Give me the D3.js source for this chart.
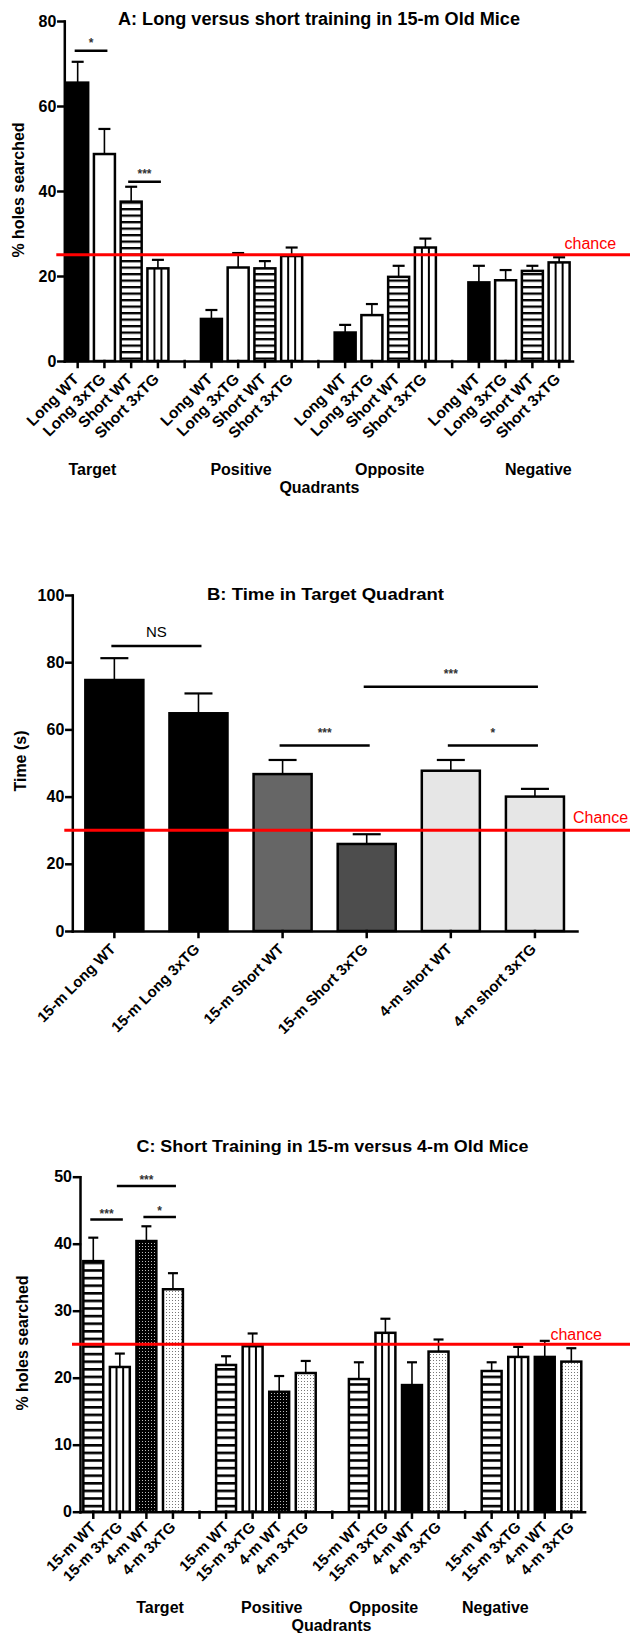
<!DOCTYPE html>
<html>
<head>
<meta charset="utf-8">
<title></title>
<style>
  body { margin: 0; background: #fff; }
  svg { display: block; font-family: "Liberation Sans", Arial, sans-serif; }
  .axis path, .axis line { stroke: #000; stroke-width: 2.5; stroke-linecap: square; }
  .axis text { font-weight: bold; fill: #000; }
</style>
</head>
<body>
<svg id="chart" width="630" height="1633"></svg>
<script src="https://cdn.jsdelivr.net/npm/d3@7/dist/d3.min.js"></script>
<script>

const quadrants = ["Target", "Positive", "Opposite", "Negative"];

// A: long vs short training, 15-m mice
const groupsA = ["Long WT", "Long 3xTG", "Short WT", "Short 3xTG"];
const meanA = [
  [65.5, 48.7, 37.5, 21.8],
  [9.9, 22.0, 21.8, 24.7],
  [6.7, 10.8, 19.8, 26.7],
  [18.5, 19.0, 21.2, 23.2]
];
const semA = [
  [4.9, 5.9, 3.5, 2.0],
  [2.1, 3.4, 1.7, 2.0],
  [1.8, 2.6, 2.6, 2.1],
  [3.9, 2.4, 1.2, 1.2]
];
const ticksA = [0, 20, 40, 60, 80];
const sigA = [
  {q: "Target", from: "Long WT", to: "Long 3xTG", level: 73, label: "*"},
  {q: "Target", from: "Short WT", to: "Short 3xTG", level: 42.2, label: "***"}
];

// B: time in target quadrant
const labelsB = ["15-m Long WT", "15-m Long 3xTG", "15-m Short WT", "15-m Short 3xTG", "4-m short WT", "4-m short 3xTG"];
const meanB = [74.7, 64.8, 46.7, 25.9, 47.7, 40.0];
const semB = [6.5, 5.9, 4.2, 2.9, 3.2, 2.3];
const ticksB = [0, 20, 40, 60, 80, 100];
const sigB = [
  {from: "15-m Long WT", to: "15-m Long 3xTG", level: 84.8, label: "NS"},
  {from: "15-m Short 3xTG", to: "4-m short 3xTG", level: 72.7, label: "***"},
  {from: "15-m Short WT", to: "15-m Short 3xTG", level: 55.2, label: "***"},
  {from: "4-m short WT", to: "4-m short 3xTG", level: 55.2, label: "*"}
];

// C: short training, 15-m vs 4-m
const groupsC = ["15-m WT", "15-m 3xTG", "4-m WT", "4-m 3xTG"];
const meanC = [
  [37.4, 21.6, 40.4, 33.2],
  [21.9, 24.7, 17.9, 20.7],
  [19.8, 26.7, 18.9, 23.9],
  [21.0, 23.1, 23.1, 22.4]
];
const semC = [
  [3.5, 2.0, 2.2, 2.4],
  [1.3, 1.9, 2.35, 1.8],
  [2.5, 2.1, 3.4, 1.8],
  [1.3, 1.5, 2.4, 2.0]
];
const ticksC = [0, 10, 20, 30, 40, 50];
const sigC = [
  {q: "Target", from: "15-m WT", to: "15-m 3xTG", level: 43.6, label: "***"},
  {q: "Target", from: "4-m WT", to: "4-m 3xTG", level: 44.0, label: "*"},
  {q: "Target", from: "15-m 3xTG", to: "4-m 3xTG", level: 48.6, label: "***"}
];

const svg = d3.select("#chart");
const defs = svg.append("defs");

function hStripe(id, h, t) {
  let p = defs.append("pattern").attr("id", id)
    .attr("patternUnits", "userSpaceOnUse").attr("width", 8).attr("height", h);
  p.append("rect").attr("width", 8).attr("height", h).attr("fill", "#fff");
  p.append("rect").attr("width", 8).attr("height", t).attr("fill", "#000");
}
hStripe("hA", 6.5, 2.3);
hStripe("hC", 7.6, 2.6);

let pd = defs.append("pattern").attr("id", "dotsDark")
  .attr("patternUnits", "userSpaceOnUse").attr("width", 3).attr("height", 3);
pd.append("rect").attr("width", 3).attr("height", 3).attr("fill", "#000");
pd.append("rect").attr("x", 1).attr("y", 1).attr("width", 1).attr("height", 1).attr("fill", "#bbb");

let pl = defs.append("pattern").attr("id", "dotsLight")
  .attr("patternUnits", "userSpaceOnUse").attr("width", 3).attr("height", 3);
pl.append("rect").attr("width", 3).attr("height", 3).attr("fill", "#fff");
pl.append("rect").attr("x", 1).attr("y", 1).attr("width", 1).attr("height", 1).attr("fill", "#777");

function title(text, cx, y, size, len) {
  svg.append("text")
    .attr("x", cx).attr("y", y)
    .attr("text-anchor", "middle")
    .attr("font-weight", "bold").attr("font-size", size)
    .attr("textLength", len).attr("lengthAdjust", "spacingAndGlyphs")
    .text(text);
}

function yTitle(text, x, cy, size) {
  svg.append("text")
    .attr("transform", "translate(" + x + "," + cy + ") rotate(-90)")
    .attr("text-anchor", "middle")
    .attr("font-weight", "bold").attr("font-size", size)
    .text(text);
}

function chance(cfg, y, value) {
  svg.append("line")
    .attr("x1", cfg.x0 - 8).attr("x2", 630)
    .attr("y1", y(value)).attr("y2", y(value))
    .attr("stroke", "#ff0000").attr("stroke-width", 3);
  svg.append("text")
    .attr("x", cfg.chanceX).attr("y", y(value) - cfg.chanceDy)
    .attr("fill", "#ff0000").attr("font-size", 16)
    .text(cfg.chanceText);
}

function sig(list, xc, y, gap) {
  list.forEach(s => {
    let x1 = xc(s, s.from) - 3, x2 = xc(s, s.to) + 3;
    svg.append("line")
      .attr("x1", x1).attr("x2", x2)
      .attr("y1", y(s.level)).attr("y2", y(s.level))
      .attr("stroke", "#000").attr("stroke-width", 2.5);
    svg.append("text")
      .attr("x", (x1 + x2) / 2).attr("y", y(s.level) - gap)
      .attr("text-anchor", "middle")
      .attr("font-size", s.label === "NS" ? 15 : 12)
      .attr("font-weight", s.label === "NS" ? "normal" : "bold")
      .attr("fill", s.label === "NS" ? "#000" : "#333")
      .text(s.label);
  });
}

function errorBars(g, xs, w, ys, means, sems, cap) {
  means.forEach((m, i) => {
    let cx = xs[i] + w / 2;
    g.append("line").attr("x1", cx).attr("x2", cx)
      .attr("y1", ys(m)).attr("y2", ys(m + sems[i]))
      .attr("stroke", "#000").attr("stroke-width", 1.6);
    g.append("line").attr("x1", cx - cap / 2).attr("x2", cx + cap / 2)
      .attr("y1", ys(m + sems[i])).attr("y2", ys(m + sems[i]))
      .attr("stroke", "#000").attr("stroke-width", 2.2);
  });
}

// grouped panels (A and C)
function grouped(cfg) {
  let slots = [];
  quadrants.forEach((q, i) => {
    if (i > 0) slots.push("gap" + i);
    cfg.groups.forEach(gr => slots.push(q + "|" + gr));
  });

  let x = d3.scaleBand().domain(slots).range([cfg.x0, cfg.x1])
    .paddingInner(cfg.pad).paddingOuter(cfg.pad / 2);
  let y = d3.scaleLinear().domain([0, d3.max(cfg.ticks)]).range([cfg.y0, cfg.y1]);

  let g = svg.append("g");

  quadrants.forEach((q, qi) => {
    cfg.groups.forEach((gr, gi) => {
      let key = q + "|" + gr;
      let v = cfg.means[qi][gi];
      let style = cfg.fill(qi, gi);
      let bx = x(key), bw = x.bandwidth();
      g.append("rect")
        .attr("x", bx).attr("y", y(v))
        .attr("width", bw).attr("height", y(0) - y(v))
        .attr("fill", style === "v" ? "#fff" : style)
        .attr("stroke", "#000").attr("stroke-width", 2.5);
      if (style === "v") {
        [1, 2].forEach(k => {
          g.append("line")
            .attr("x1", bx + bw * k / 3).attr("x2", bx + bw * k / 3)
            .attr("y1", y(v)).attr("y2", y(0))
            .attr("stroke", "#000").attr("stroke-width", 2);
        });
      }
    });
    let xs = cfg.groups.map(gr => x(q + "|" + gr));
    errorBars(g, xs, x.bandwidth(), y, cfg.means[qi], cfg.sems[qi], cfg.cap);
  });

  let xAxis = svg.append("g").attr("class", "axis")
    .attr("transform", "translate(0," + cfg.y0 + ")")
    .call(d3.axisBottom(x).tickSize(6).tickSizeOuter(0)
      .tickFormat(d => d.startsWith("gap") ? "" : d.split("|")[1]));
  xAxis.selectAll("text")
    .attr("font-size", cfg.labelSize)
    .attr("x", cfg.labelX).attr("y", cfg.labelY).attr("dy", 0)
    .attr("transform", "rotate(-45)")
    .style("text-anchor", "end");

  svg.append("g").attr("class", "axis")
    .attr("transform", "translate(" + cfg.x0 + ",0)")
    .call(d3.axisLeft(y).tickValues(cfg.ticks).tickSize(6).tickPadding(2).tickSizeOuter(0))
    .selectAll("text").attr("font-size", 16);

  let qx = d3.scalePoint().domain(quadrants).range(cfg.quadRange);
  quadrants.forEach(q => {
    svg.append("text").attr("x", qx(q)).attr("y", cfg.quadY)
      .attr("text-anchor", "middle").attr("font-weight", "bold").attr("font-size", 16)
      .text(q);
  });
  svg.append("text").attr("x", cfg.quadTitleX).attr("y", cfg.quadY + 18)
    .attr("text-anchor", "middle").attr("font-weight", "bold").attr("font-size", 16)
    .text("Quadrants");

  chance(cfg, y, 25);
  sig(cfg.sig, (s, gr) => x(s.q + "|" + gr) + x.bandwidth() / 2, y, cfg.sigGap);
}

// Panel A
title("A: Long versus short training in 15-m Old Mice", 319, 25, 18, 402);
yTitle("% holes searched", 24, 190, 16);
grouped({
  groups: groupsA, means: meanA, sems: semA, ticks: ticksA, sig: sigA,
  x0: 64.3, x1: 572.5, y0: 361, y1: 21, pad: 0.215, cap: 12,
  fill: (qi, gi) => ["#000", "#fff", "url(#hA)", "v"][gi],
  labelSize: 15.5, labelX: -12, labelY: 15,
  quadRange: [92.4, 538.4], quadY: 475, quadTitleX: 319.4,
  chanceX: 564.5, chanceDy: 6, chanceText: "chance", sigGap: 4
});

// Panel B
title("B:  Time in Target Quadrant", 325.5, 600, 17, 237);
yTitle("Time (s)", 26, 761, 16);
(function () {
  let cfg = {x0: 72.3, x1: 577, y0: 931, y1: 595, chanceX: 573, chanceDy: 7.4, chanceText: "Chance"};
  let x = d3.scaleBand().domain(labelsB).range([cfg.x0, cfg.x1]).paddingInner(0.31).paddingOuter(0.155);
  let y = d3.scaleLinear().domain([0, d3.max(ticksB)]).range([cfg.y0, cfg.y1]);
  let fills = ["#000", "#000", "#666", "#4d4d4d", "#e6e6e6", "#e6e6e6"];
  let g = svg.append("g");
  g.selectAll("rect").data(meanB).join("rect")
    .attr("x", (d, i) => x(labelsB[i])).attr("y", d => y(d))
    .attr("width", x.bandwidth()).attr("height", d => y(0) - y(d))
    .attr("fill", (d, i) => fills[i])
    .attr("stroke", "#000").attr("stroke-width", 2.5);
  errorBars(g, labelsB.map(l => x(l)), x.bandwidth(), y, meanB, semB, 28);

  let xAxis = svg.append("g").attr("class", "axis")
    .attr("transform", "translate(0," + cfg.y0 + ")")
    .call(d3.axisBottom(x).tickSize(6).tickSizeOuter(0));
  xAxis.selectAll("text")
    .attr("font-size", 15)
    .attr("x", -12).attr("y", 15).attr("dy", 0)
    .attr("transform", "rotate(-45)")
    .style("text-anchor", "end");

  svg.append("g").attr("class", "axis")
    .attr("transform", "translate(" + cfg.x0 + ",0)")
    .call(d3.axisLeft(y).tickValues(ticksB).tickSize(6).tickPadding(2).tickSizeOuter(0))
    .selectAll("text").attr("font-size", 16);

  chance(cfg, y, 30);
  sig(sigB, (s, l) => x(l) + x.bandwidth() / 2, y, 9);
})();

// Panel C
title("C: Short Training in 15-m versus 4-m Old Mice", 332.5, 1151.7, 17, 392);
yTitle("% holes searched", 28, 1343, 16);
grouped({
  groups: groupsC, means: meanC, sems: semC, ticks: ticksC, sig: sigC,
  x0: 80, x1: 584.6, y0: 1511.7, y1: 1176.7, pad: 0.25, cap: 10,
  fill: (qi, gi) => [
    "url(#hC)", "v",
    qi < 2 ? "url(#dotsDark)" : "#000",
    "url(#dotsLight)"
  ][gi],
  labelSize: 15, labelX: -9, labelY: 14,
  quadRange: [160, 495.4], quadY: 1613, quadTitleX: 331.5,
  chanceX: 550.4, chanceDy: 4.4, chanceText: "chance", sigGap: 2
});

</script>
</body>
</html>
